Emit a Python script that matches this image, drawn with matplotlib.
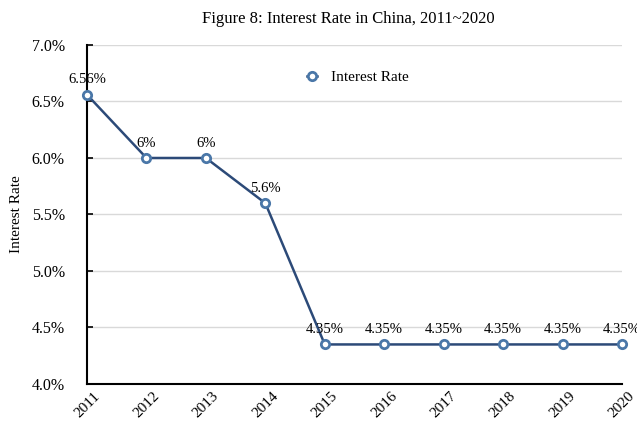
import matplotlib
matplotlib.use("Agg")
import matplotlib.pyplot as plt
from matplotlib.ticker import FuncFormatter

years = [2011, 2012, 2013, 2014, 2015, 2016, 2017, 2018, 2019, 2020]
rates = [6.56, 6.0, 6.0, 5.6, 4.35, 4.35, 4.35, 4.35, 4.35, 4.35]
labels = ["6.56%", "6%", "6%", "5.6%", "4.35%", "4.35%", "4.35%", "4.35%", "4.35%", "4.35%"]

plt.rcParams['font.family'] = ['Liberation Serif', 'DejaVu Serif']

fig = plt.figure(figsize=(6.37, 4.26), dpi=100)
ax = fig.add_axes([0.1366, 0.0986, 0.8399, 0.7958])

ax.plot(years, rates, color="#2c4a78", linewidth=1.8, marker="o", markersize=6,
        markerfacecolor="white", markeredgecolor="#4a77a8", markeredgewidth=2,
        label="Interest Rate", clip_on=False, zorder=3)

for x, y, s in zip(years, rates, labels):
    ax.annotate(s, (x, y), xytext=(0, 6), textcoords="offset points",
                ha="center", va="bottom", fontsize=10.5)

ax.set_xlim(2011, 2020)
ax.set_ylim(4.0, 7.0)
ax.set_yticks([4.0, 4.5, 5.0, 5.5, 6.0, 6.5, 7.0])
ax.yaxis.set_major_formatter(FuncFormatter(lambda v, p: "{:.1f}%".format(v)))
ax.set_xticks(years)
ax.set_xticklabels([str(y) for y in years], rotation=45, ha="center", va="top")
ax.tick_params(axis="x", length=0, labelsize=11, pad=4)
ax.tick_params(axis="y", direction="in", length=4, width=1.2, labelsize=11.5, pad=16)

ax.grid(axis="y", color="#d9d9d9", linewidth=1)
ax.set_axisbelow(True)
for side in ["top", "right"]:
    ax.spines[side].set_visible(False)
ax.spines["left"].set_linewidth(1.5)
ax.spines["bottom"].set_linewidth(1.5)

ax.set_ylabel("Interest Rate", fontsize=11, labelpad=6)
fig.text(0.547, 0.955, "Figure 8: Interest Rate in China, 2011~2020", ha="center", va="center", fontsize=12)

ax.legend(loc="center left", bbox_to_anchor=(0.385, 0.905), frameon=False, fontsize=11,
          handlelength=0.7, handletextpad=0.9, markerscale=1)

fig.savefig("out.png", dpi=100)
